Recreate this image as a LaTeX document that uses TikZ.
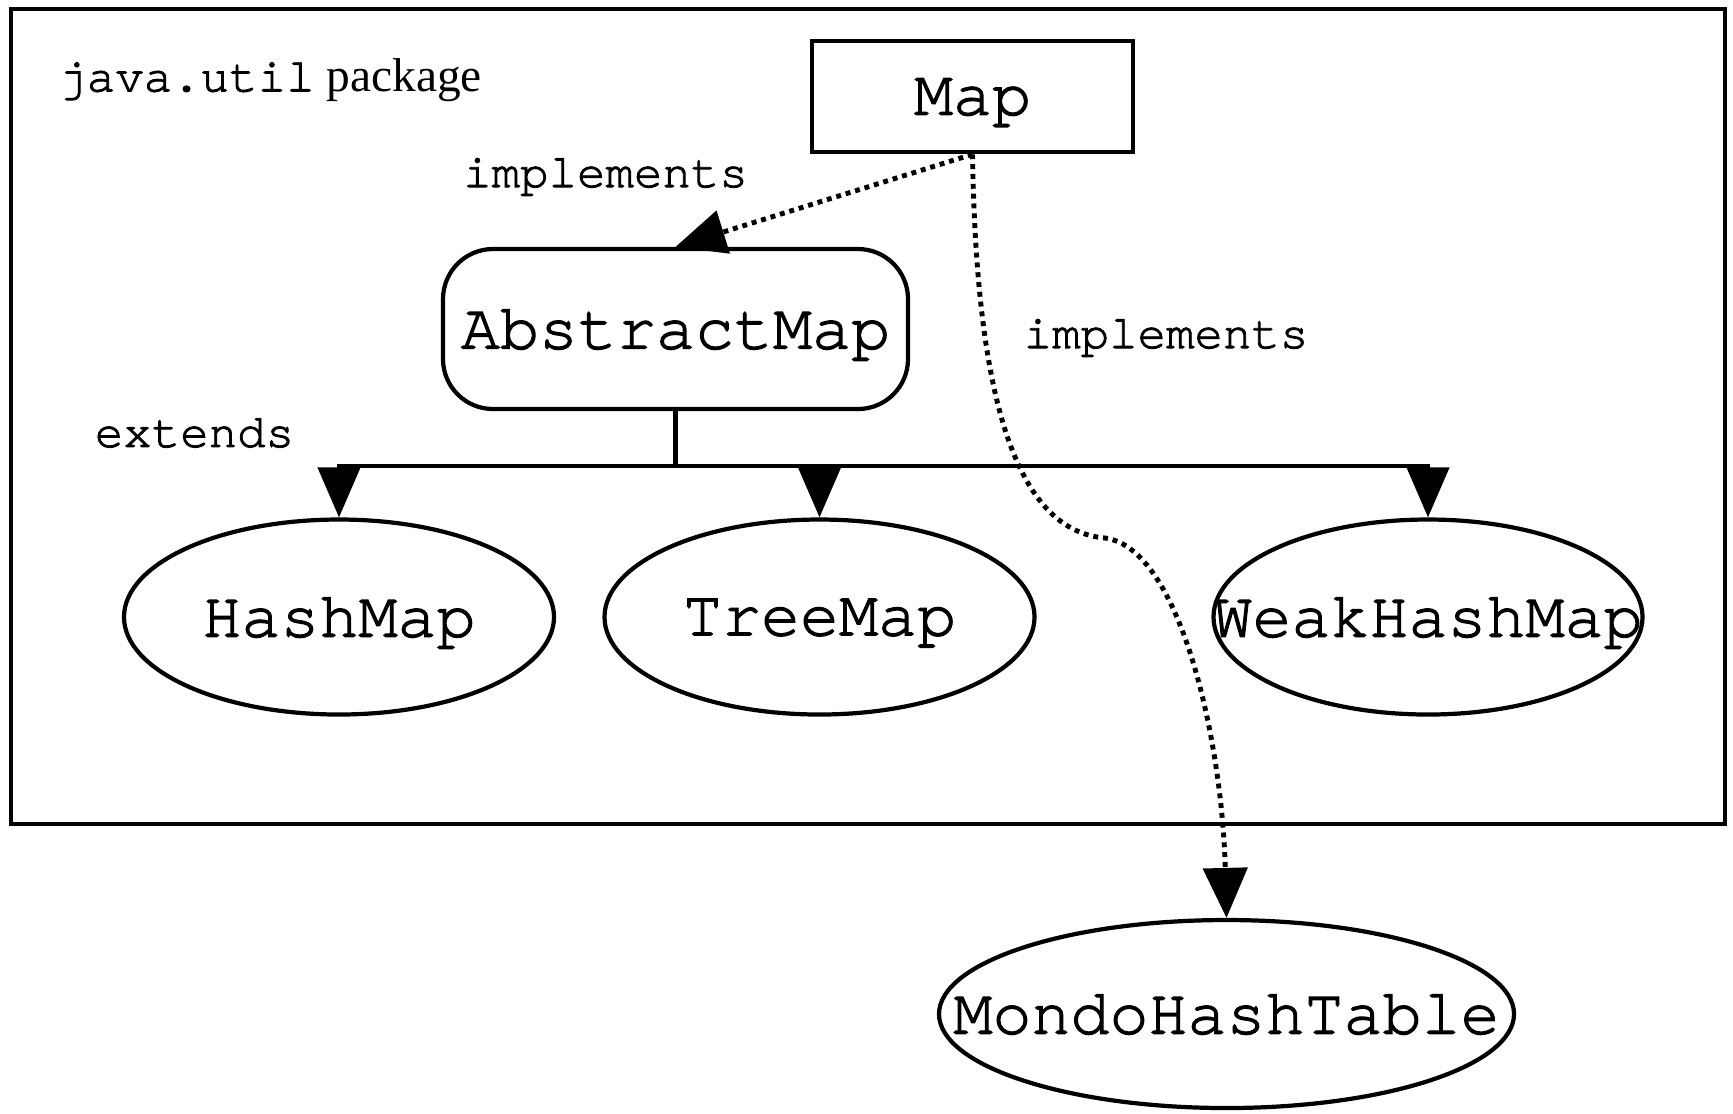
\documentclass[tikz,border=0pt]{standalone}
\usepackage{fontspec}
\setmainfont{Liberation Serif}
\setmonofont{Liberation Mono}
% Courier for class names and relations, set a little heavier
\font\classfnt="[texgyrecursor-regular.otf]:embolden=1.8" at 18.5pt
\font\relfnt="[texgyrecursor-regular.otf]:embolden=1.8" at 13.5pt
\usetikzlibrary{shapes.geometric, positioning, arrows.meta}
\newcommand{\labelfont}{\fontsize{13.5}{15}\selectfont}
\tikzset{
  iface/.style = {
    rectangle, draw, line width=1.3pt, text depth=0pt,
    minimum width=3.21cm, minimum height=1.11cm,
    font=\classfnt,
  },
  abstract/.style = {
    rectangle, draw, line width=1.2pt, rounded corners=0.5cm, text depth=0pt,
    minimum width=4.65cm, minimum height=1.6cm,
    font=\classfnt,
  },
  concrete/.style = {
    ellipse, draw, line width=1.2pt, inner xsep=-0.8cm, text depth=0pt,
    minimum width=4.3cm, minimum height=1.95cm,
    font=\classfnt,
  },
  relation/.style = {font=\relfnt},
  extends/.style = {line width=1.2pt, -{Triangle[length=0.5cm, width=0.42cm]}},
  implements/.style = {line width=1.4pt, dash pattern=on 1.4pt off 1.4pt,
    -{Triangle[length=0.5cm, width=0.44cm]}},
}

\begin{document}
\begin{tikzpicture}
    \useasboundingbox (0,0) rectangle (17.33,-11.13);
    % --- Package frame ---
    \node[draw, line width=1.3pt, minimum width=17.14cm, minimum height=8.15cm]
      (pkg) at (8.68,-4.165) {};
    \node[anchor=west, font=\labelfont] (pkgname) at (0.46,-0.8)
      {{\relfnt java.util} package};

    % --- Nodes ---
    \node[iface]    (map)   at (9.725,-0.965) {Map};
    \node[abstract] (am)    at (6.755,-3.29)  {AbstractMap};
    \node[concrete] (hash)  at (3.39,-6.17)   {HashMap};
    \node[concrete] (tree)  at (8.195,-6.17)  {TreeMap};
    \node[concrete, minimum width=4.29cm] (weak) at (14.28,-6.17) {WeakHashMap};
    \node[concrete, minimum width=5.75cm, minimum height=1.88cm]
      (mondo) at (12.265,-10.14) {MondoHashTable};
    \coordinate[below=0.55cm of am.south] (fork);
    \coordinate (bend) at (11.05,-5.38);

    % --- Labels ---
    \node[relation] (implA) at (6.055,-1.77) {implements};
    \node[relation] (implB) at (11.66,-3.38) {implements};
    \node[relation] (ext)   at (1.945,-4.33) {extends};

    % --- Arrows ---
    \foreach \kid in {hash, tree, weak}
      \draw[extends] (am.south) -- (fork) -| (\kid.north);
    \draw[implements] (map.south) -- (am.north);
    % Map reaches outside the package
    \draw[implements] (map.south) .. controls (9.76,-3.8) and (10.1,-5.3) .. (bend)
      .. controls (11.8,-5.48) and (12.22,-7.4) .. (mondo.north);
  \end{tikzpicture}
\end{document}
